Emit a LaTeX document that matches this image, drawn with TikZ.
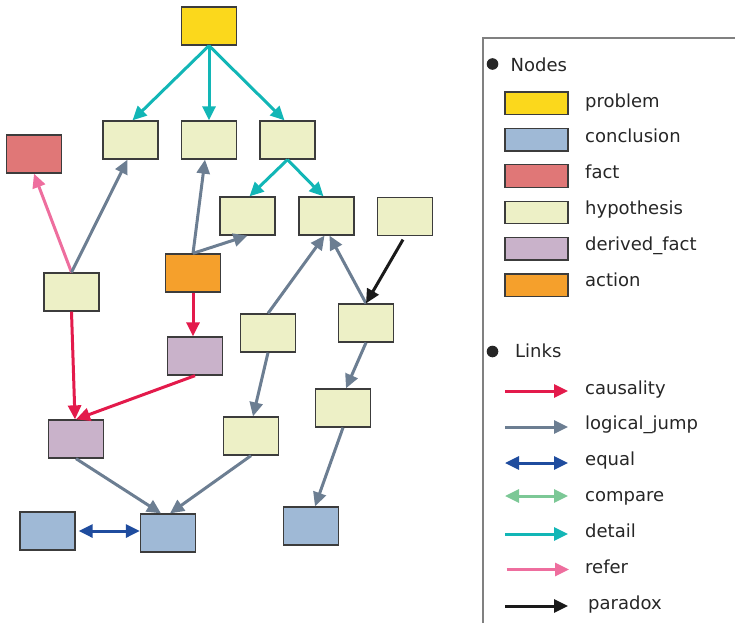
\documentclass[tikz,border=0pt]{standalone}
\usepackage{fontspec}
\setmainfont{DejaVu Sans}
\usetikzlibrary{arrows.meta}

% node fills
\definecolor{cProblem}{HTML}{FBD81C}
\definecolor{cConcl}{HTML}{9FB9D6}
\definecolor{cFact}{HTML}{E07777}
\definecolor{cHyp}{HTML}{EDF0C6}
\definecolor{cDerived}{HTML}{C9B2CA}
\definecolor{cAction}{HTML}{F5A02C}
\definecolor{cBorder}{HTML}{3C3C3C}
% link colours
\definecolor{lCaus}{HTML}{E31A4B}
\definecolor{lJump}{HTML}{6C7E92}
\definecolor{lEqual}{HTML}{1F4C9E}
\definecolor{lCompare}{HTML}{7CC896}
\definecolor{lDetail}{HTML}{12B6B6}
\definecolor{lRefer}{HTML}{EE6E9E}
\definecolor{lParadox}{HTML}{1A1A1A}
\definecolor{cText}{HTML}{262626}
\definecolor{cFrame}{HTML}{808080}

\tikzset{
  box/.style={draw=cBorder, line width=1.3pt, minimum width=55pt,
    minimum height=38pt, inner sep=0pt},
  nProblem/.style={box, fill=cProblem},
  nConcl/.style={box, fill=cConcl},
  nFact/.style={box, fill=cFact},
  nHyp/.style={box, fill=cHyp},
  nDerived/.style={box, fill=cDerived},
  nAction/.style={box, fill=cAction},
  tip/.style={-{Triangle[length=14pt 0 0,width=13pt 0 0]}},
  twotip/.style={{Triangle[length=14pt 0 0,width=13pt 0 0]}-{Triangle[length=14pt 0 0,width=13pt 0 0]}},
  link/.style={line width=3pt, tip},
  lkCaus/.style={link, draw=lCaus},
  lkJump/.style={link, draw=lJump},
  lkEqual/.style={line width=3pt, twotip, draw=lEqual},
  lkDetail/.style={link, draw=lDetail},
  lkRefer/.style={link, draw=lRefer},
  lkParadox/.style={link, draw=lParadox},
  swatch/.style={draw=cBorder, line width=1.3pt},
  legarrow/.style={line width=3pt},
  legtext/.style={anchor=base west, inner sep=0pt, text=cText,
    font=\fontsize{18}{20}\selectfont},
}

\begin{document}
\begin{tikzpicture}[x=1pt, y=-1pt]
\useasboundingbox (0,0) rectangle (735,623);

% ---- graph nodes ----
\node[nProblem] (prob) at (209,26) {};
\node[nHyp] (h1) at (130.5,140) {};
\node[nHyp] (h2) at (209,140) {};
\node[nHyp] (h3) at (287.5,140) {};
\node[nFact] (fact) at (34,154) {};
\node[nHyp] (h4) at (247.5,216) {};
\node[nHyp] (h5) at (326.5,216) {};
\node[nHyp] (h6) at (405,216.5) {};
\node[nAction] (act) at (193,273) {};
\node[nHyp] (h7) at (71.5,292) {};
\node[nDerived] (d1) at (195,356) {};
\node[nHyp] (h8) at (268,333) {};
\node[nHyp] (h9) at (366,323) {};
\node[nDerived] (d2) at (76,439) {};
\node[nHyp] (h10) at (251,436) {};
\node[nHyp] (h11) at (343,408) {};
\node[nConcl] (c1) at (47.5,531) {};
\node[nConcl] (c2) at (168,533) {};
\node[nConcl] (c3) at (311,526) {};

% ---- links ----
\draw[lkDetail] (prob.south) -- ([xshift=2pt]h1.north);
\draw[lkDetail] (prob.south) -- (h2.north);
\draw[lkDetail] (prob.south) -- ([xshift=-3pt]h3.north);
\draw[lkDetail] (h3.south) -- ([xshift=2pt]h4.north);
\draw[lkDetail] (h3.south) -- ([xshift=-3pt]h5.north);

\draw[lkRefer] (h7.north) -- (fact.south);
\draw[lkJump] (h7.north) -- ([xshift=-3pt]h1.south);
\draw[lkJump] (act.north) -- ([xshift=-4pt]h2.south);
\draw[lkJump] (act.north) -- (h4.south);
\draw[lkCaus] (act.south) -- (act.south |- d1.north);
\draw[lkCaus] (h7.south) -- ([xshift=-1pt]d2.north);
\draw[lkCaus] (d1.south) -- (d2.north);

\draw[lkJump] (h8.north) -- ([xshift=-2pt]h5.south);
\draw[lkJump] (h9.north) -- ([xshift=3pt]h5.south);
\draw[lkParadox, shorten <=4pt] (h6.south) -- (h9.north);
\draw[lkJump] (h8.south) -- ([xshift=2pt]h10.north);
\draw[lkJump] (h9.south) -- ([xshift=3pt]h11.north);
\draw[lkJump] (h11.south) -- ([xshift=4pt]c3.north);
\draw[lkJump] (d2.south) -- ([xshift=-7pt]c2.north);
\draw[lkJump] (h10.south) -- ([xshift=2pt]c2.north);
\draw[lkEqual, shorten <=3pt] (c1.east) -- (c1.east -| c2.west);

% ---- legend ----
\draw[cFrame, line width=1.3pt] (483,623) -- (483,38) -- (735,38);

\fill[cText] (492.5,64) circle (5.8pt);
\node[legtext] (lgNodes) at (510.5,71.5) {Nodes};

\foreach \i/\name/\sty in {0/problem/cProblem, 1/conclusion/cConcl,
    2/fact/cFact, 3/hypothesis/cHyp, 4/derived\_fact/cDerived, 5/action/cAction} {
  \filldraw[swatch, fill=\sty] (505,{92+36.4*\i}) rectangle ++(63,22.5);
  \node[legtext] (lgN\i) at (585,{107+35.8*\i}) {\name};
}

\fill[cText] (492.5,351.5) circle (5.8pt);
\node[legtext] (lgLinks) at (515,357.5) {Links};

\draw[legarrow, tip, lCaus] (505,391) -- (568,391);
\node[legtext] (lgL0) at (585,394) {causality};
\draw[legarrow, tip, lJump] (505,427) -- (568,427);
\node[legtext] (lgL1) at (585,429.5) {logical\_jump};
\draw[legarrow, twotip, lEqual] (505,463) -- (568,463);
\node[legtext] (lgL2) at (585,465) {equal};
\draw[legarrow, twotip, lCompare] (505,496) -- (568,496);
\node[legtext] (lgL3) at (585,501) {compare};
\draw[legarrow, tip, lDetail] (505,534) -- (568,534);
\node[legtext] (lgL4) at (585,537) {detail};
\draw[legarrow, tip, lRefer] (506.5,569.5) -- (569,569.5);
\node[legtext] (lgL5) at (585,573) {refer};
\draw[legarrow, tip, lParadox] (505,606) -- (568,606);
\node[legtext] (lgL6) at (588,609) {paradox};
\end{tikzpicture}
\end{document}
